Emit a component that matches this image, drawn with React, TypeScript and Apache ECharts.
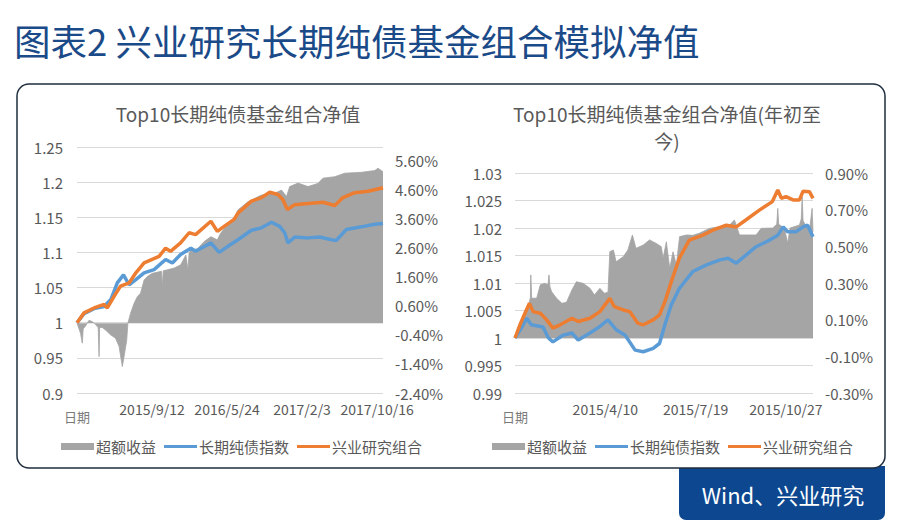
import React, { useEffect, useRef } from "react";
import * as echarts from "echarts";

// ---------- data (left chart: days since 2014/12/31) ----------
const leftXTickLabels = ["日期", "2015/9/12", "2016/5/24", "2017/2/3", "2017/10/16"];
const leftExcessDays = [0, 7, 12, 18, 21, 29, 41, 52, 63, 72, 75, 77, 86, 97, 114, 131, 143, 154, 160, 169, 173, 182, 194, 205, 216, 228, 239, 256, 287, 290, 293, 307, 330, 352, 370, 377, 381, 387, 409, 432, 455, 477, 488, 511, 534, 547, 581, 627, 672, 695, 712, 723, 751, 785, 819, 836, 876, 910, 967, 1012, 1023, 1040];
const leftExcessValues = [0, -0.2, -0.35, -0.69, -0.2, -0.1, 0.1, 0.05, -0.05, -0.15, -1.15, -0.15, -0.15, -0.24, -0.4, -0.52, -0.8, -1.49, -1.15, -0.58, 0, 0.34, 0.68, 0.91, 1.03, 1.48, 1.6, 1.71, 1.78, 1.25, 1.8, 1.83, 1.89, 2.0, 2.34, 1.83, 2.4, 2.52, 2.55, 2.8, 2.97, 2.86, 3.09, 3.37, 3.6, 3.89, 4.17, 4.4, 4.46, 4.57, 4.35, 4.69, 4.81, 4.69, 4.8, 4.98, 5.03, 5.15, 5.18, 5.24, 5.32, 5.2];
const leftIndexDays = [0, 24, 58, 92, 115, 137, 158, 177, 200, 228, 262, 301, 324, 352, 387, 403, 455, 483, 513, 547, 593, 627, 661, 689, 706, 717, 740, 785, 825, 865, 881, 915, 967, 1012, 1040];
const leftIndexValues = [1.0, 1.013, 1.02, 1.023, 1.033, 1.0566, 1.068, 1.054, 1.0613, 1.071, 1.0755, 1.09, 1.085, 1.097, 1.106, 1.1016, 1.1136, 1.1, 1.1087, 1.118, 1.1316, 1.135, 1.143, 1.137, 1.128, 1.1136, 1.122, 1.1207, 1.122, 1.118, 1.117, 1.1325, 1.1364, 1.14, 1.141];
const leftPortfolioDays = [0, 24, 58, 92, 103, 126, 148, 177, 200, 228, 279, 301, 318, 352, 381, 403, 455, 477, 500, 534, 547, 593, 627, 655, 683, 700, 715, 740, 785, 836, 876, 904, 944, 989, 1040];
const leftPortfolioValues = [1.0, 1.014, 1.021, 1.026, 1.021, 1.0375, 1.052, 1.0566, 1.071, 1.085, 1.0945, 1.106, 1.1016, 1.1135, 1.128, 1.1254, 1.1444, 1.13, 1.137, 1.147, 1.156, 1.173, 1.178, 1.1857, 1.1824, 1.175, 1.161, 1.168, 1.1696, 1.1714, 1.1667, 1.178, 1.185, 1.187, 1.192];

// ---------- data (right chart: days since 2014/12/31) ----------
const rightXTickLabels = ["日期", "2015/4/10", "2015/7/19", "2015/10/27"];
const rightExcessDays = [0, 4, 9, 15, 17, 17.5, 18.5, 24, 28, 33, 36.5, 37.6, 38.7, 40.5, 46, 52, 57, 63, 68, 75.5, 83, 88, 94, 99, 103, 105, 109, 112, 120, 125, 130, 134, 142, 149, 156.5, 162, 164, 167.6, 171.3, 175, 178.7, 182.3, 190, 197, 204, 215.5, 226.5, 237.6, 243, 248.6, 267, 272.6, 285.4, 289.9, 291, 292, 298.3, 302, 304.6, 315, 317, 318, 319, 326, 329, 330];
const rightExcessValues = [0, 0.07, 0.107, 0.18, 0.22, 0.344, 0.217, 0.217, 0.29, 0.298, 0.29, 0.344, 0.28, 0.253, 0.217, 0.189, 0.195, 0.262, 0.307, 0.298, 0.271, 0.235, 0.271, 0.244, 0.25, 0.471, 0.48, 0.416, 0.444, 0.48, 0.562, 0.489, 0.507, 0.535, 0.516, 0.498, 0.435, 0.525, 0.38, 0.47, 0.4, 0.553, 0.562, 0.56, 0.571, 0.598, 0.607, 0.616, 0.644, 0.562, 0.562, 0.598, 0.6, 0.62, 0.707, 0.62, 0.6, 0.517, 0.6, 0.616, 0.65, 0.771, 0.64, 0.58, 0.707, 0.58];
const rightIndexDays = [0, 7, 13, 18, 31, 37, 42, 53, 63, 70, 83, 94, 103, 112, 122, 133, 142, 153, 160, 166, 173, 182, 197, 212, 227, 236, 245, 256, 267, 282, 291, 297, 302, 311, 319, 324, 330];
const rightIndexValues = [1.0, 1.0018, 1.0036, 1.0024, 1.002, 1.0, 0.9993, 1.0005, 1.0009, 0.99964, 1.0009, 1.0021, 1.0033, 1.0015, 1.0005, 0.9978, 0.9975, 0.9981, 0.999, 1.0024, 1.006, 1.009, 1.0121, 1.0133, 1.0142, 1.0145, 1.0136, 1.0151, 1.0166, 1.0178, 1.0187, 1.0202, 1.0193, 1.0193, 1.0202, 1.0205, 1.0184];
const rightPortfolioDays = [0, 5.5, 11, 16, 20, 28, 35, 42, 50, 63, 70, 83, 94, 105, 110, 120, 127, 136, 142, 153, 160, 166, 173, 182, 193, 208, 219, 234, 245, 256, 271, 285, 291, 295, 300, 308, 315, 319, 326, 330];
const rightPortfolioValues = [1.0, 1.0024, 1.0045, 1.0063, 1.0048, 1.0045, 1.0033, 1.0018, 1.0024, 1.0036, 1.003, 1.0036, 1.0048, 1.0072, 1.0057, 1.0051, 1.0048, 1.0027, 1.0024, 1.0033, 1.0042, 1.0066, 1.0102, 1.0145, 1.0178, 1.0187, 1.0196, 1.0205, 1.0202, 1.0215, 1.0233, 1.0248, 1.0269, 1.0254, 1.0257, 1.0251, 1.0251, 1.0267, 1.0266, 1.0254];

const SERIES_NAMES = ["超额收益", "长期纯债指数", "兴业研究组合"];

const GREY = "#a5a5a5";
const BLUE = "#5b9bd5";
const ORANGE = "#ed7d31";
const TEXT = "#595959";
const FONT = '"Noto Sans CJK SC", "Noto Sans", sans-serif';
const LINE_ICON = "path://M0,0H33V3.2H0Z";

const zip = (xs: number[], ys: number[]) => xs.map((x, i) => [x, ys[i]]);

function xLabel(labels: string[], step: number) {
  return (v: number) => {
    const idx = Math.round(v / step);
    if (Math.abs(v - idx * step) > 0.5 || idx >= labels.length) return "";
    return idx === 0 ? "{d|" + labels[0] + "}" : labels[idx];
  };
}

function pctLabel(min: number, unit: number, every: number) {
  return (v: number) => {
    const k = Math.round((v - min) / unit);
    return k % every === 0 ? v.toFixed(2) + "%" : "";
  };
}

export default function App() {
  const ref = useRef<HTMLDivElement>(null);
  useEffect(() => {
    document.body.style.margin = "0";
    const chart = echarts.init(ref.current!, undefined, { renderer: "svg" });
    const axisLabelBase = { color: TEXT, fontSize: 15, fontFamily: FONT };
    const xLabelBase = {
      color: TEXT,
      fontSize: 14,
      fontFamily: FONT,
      margin: 9,
      rich: { d: { fontSize: 13, color: "#7a7a7a", fontFamily: FONT, padding: [8, 0, 0, 0] } },
    };
    const hidden = { show: false };
    const split = { show: true, lineStyle: { color: "#d9d9d9", width: 1 } };
    const lineSeries = (name: string, color: string, xi: number, yi: number, data: number[][]) => ({
      name,
      type: "line",
      xAxisIndex: xi,
      yAxisIndex: yi,
      data,
      symbol: "none",
      showSymbol: false,
      lineStyle: { color, width: 3.5 },
      itemStyle: { color },
    });
    const areaSeries = (xi: number, yi: number, data: number[][]) => ({
      name: SERIES_NAMES[0],
      type: "line",
      xAxisIndex: xi,
      yAxisIndex: yi,
      data,
      symbol: "none",
      showSymbol: false,
      lineStyle: { color: GREY, width: 0.8 },
      itemStyle: { color: GREY },
      areaStyle: { color: GREY, opacity: 1 },
    });
    const legendBase = {
      top: 434,
      itemWidth: 33,
      itemHeight: 7,
      itemGap: 8,
      selectedMode: false,
      textStyle: { color: TEXT, fontSize: 15, fontFamily: FONT, padding: [0, 0, 0, -3] },
      data: [
        { name: SERIES_NAMES[0], icon: "rect" },
        { name: SERIES_NAMES[1], icon: LINE_ICON },
        { name: SERIES_NAMES[2], icon: LINE_ICON },
      ],
    };
    chart.setOption({
      animation: false,
      backgroundColor: "#ffffff",
      textStyle: { fontFamily: FONT },
      graphic: [
        {
          type: "text",
          left: 14,
          top: 22,
          z: 1,
          style: {
            text: "图表2 兴业研究长期纯债基金组合模拟净值",
            fill: "#1b4a88",
            fontSize: 36.5,
            fontFamily: FONT,
          },
        },
        {
          type: "rect",
          z: 0,
          shape: { x: 679, y: 466, width: 206, height: 54, r: [0, 0, 7, 7] },
          style: { fill: "#0c4790" },
        },
        {
          type: "text",
          z: 1,
          x: 783,
          y: 494,
          style: {
            text: "Wind、兴业研究",
            fill: "#ffffff",
            fontSize: 22,
            fontFamily: FONT,
            align: "center",
            verticalAlign: "middle",
          },
        },
        {
          type: "rect",
          z: 0,
          shape: { x: 17, y: 84, width: 868, height: 384, r: 12 },
          style: { fill: "#ffffff", stroke: "#1f2e3f", lineWidth: 1.5 },
        },
        {
          type: "text",
          z: 1,
          x: 238,
          y: 113,
          style: {
            text: "Top10长期纯债基金组合净值",
            fill: TEXT,
            fontSize: 19,
            fontFamily: FONT,
            align: "center",
            verticalAlign: "middle",
          },
        },
        {
          type: "text",
          z: 1,
          x: 667,
          y: 126.5,
          style: {
            text: "Top10长期纯债基金组合净值(年初至\n今)",
            fill: TEXT,
            fontSize: 19,
            lineHeight: 27,
            fontFamily: FONT,
            align: "center",
            verticalAlign: "middle",
          },
        },
      ],
      legend: [
        { ...legendBase, left: 56 },
        { ...legendBase, left: 487 },
      ],
      grid: [
        { left: 77, top: 147, width: 306, height: 246, containLabel: false },
        { left: 515, top: 173, width: 298, height: 220, containLabel: false },
      ],
      xAxis: [
        {
          type: "value",
          gridIndex: 0,
          min: 0,
          max: 1040,
          interval: 255,
          axisLine: hidden,
          axisTick: hidden,
          splitLine: hidden,
          axisLabel: { ...xLabelBase, formatter: xLabel(leftXTickLabels, 255) },
        },
        {
          type: "value",
          gridIndex: 1,
          min: 0,
          max: 330,
          interval: 100,
          axisLine: hidden,
          axisTick: hidden,
          splitLine: hidden,
          axisLabel: { ...xLabelBase, formatter: xLabel(rightXTickLabels, 100) },
        },
      ],
      yAxis: [
        {
          type: "value",
          gridIndex: 0,
          position: "left",
          min: 0.9,
          max: 1.25,
          interval: 0.05,
          axisLine: hidden,
          axisTick: hidden,
          splitLine: split,
          axisLabel: { ...axisLabelBase, margin: 14 },
        },
        {
          type: "value",
          gridIndex: 0,
          position: "right",
          min: -2.4,
          max: 6.05,
          interval: 0.2,
          axisLine: hidden,
          axisTick: hidden,
          splitLine: hidden,
          axisLabel: { ...axisLabelBase, margin: 12, formatter: pctLabel(-2.4, 0.2, 5) },
        },
        {
          type: "value",
          gridIndex: 1,
          position: "left",
          min: 0.99,
          max: 1.03,
          interval: 0.005,
          axisLine: hidden,
          axisTick: hidden,
          splitLine: split,
          axisLabel: { ...axisLabelBase, margin: 13 },
        },
        {
          type: "value",
          gridIndex: 1,
          position: "right",
          min: -0.3,
          max: 0.9,
          interval: 0.1,
          axisLine: hidden,
          axisTick: hidden,
          splitLine: hidden,
          axisLabel: { ...axisLabelBase, margin: 12, formatter: pctLabel(-0.3, 0.1, 2) },
        },
      ],
      series: [
        areaSeries(0, 1, zip(leftExcessDays, leftExcessValues)),
        lineSeries(SERIES_NAMES[1], BLUE, 0, 0, zip(leftIndexDays, leftIndexValues)),
        lineSeries(SERIES_NAMES[2], ORANGE, 0, 0, zip(leftPortfolioDays, leftPortfolioValues)),
        areaSeries(1, 3, zip(rightExcessDays, rightExcessValues)),
        lineSeries(SERIES_NAMES[1], BLUE, 1, 2, zip(rightIndexDays, rightIndexValues)),
        lineSeries(SERIES_NAMES[2], ORANGE, 1, 2, zip(rightPortfolioDays, rightPortfolioValues)),
      ],
    });
    return () => chart.dispose();
  }, []);
  return <div ref={ref} style={{ width: 905, height: 532 }} />;
}
